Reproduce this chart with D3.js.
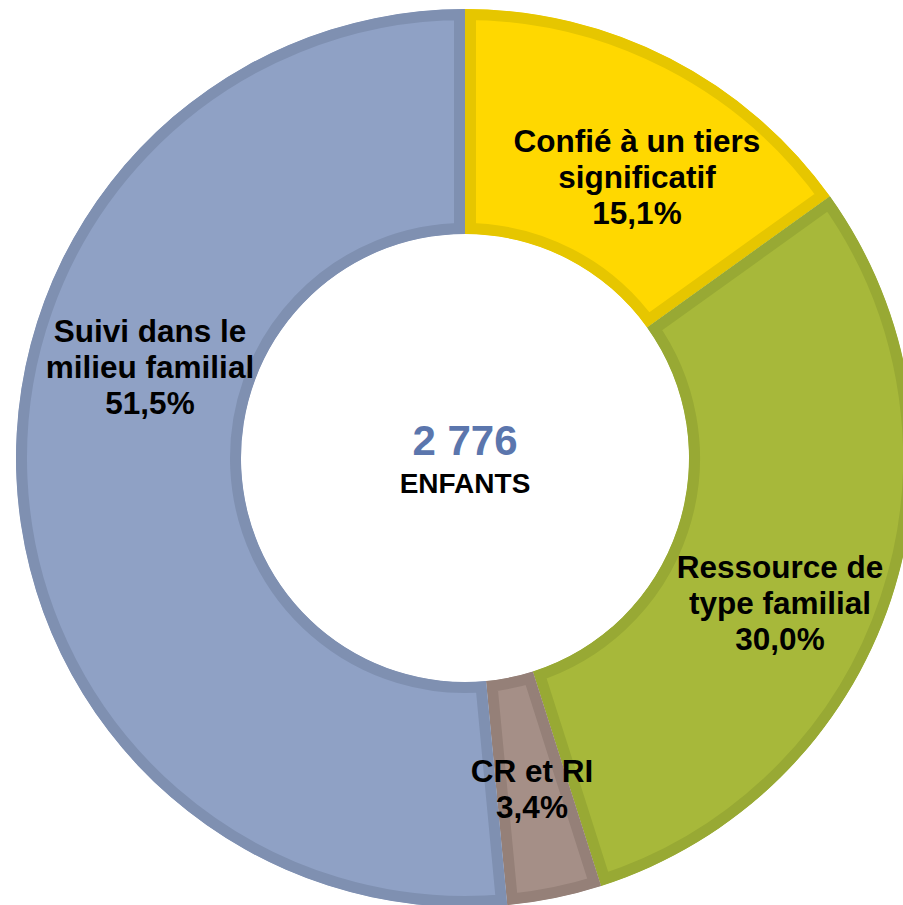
<!DOCTYPE html>
<html lang="fr">
<head>
  <meta charset="UTF-8">
  <title>Répartition des enfants</title>
  <script src="https://d3js.org/d3.v7.min.js"></script>
  <style>
    html, body { margin: 0; padding: 0; background: #fff; }
    svg { display: block; font-family: "Liberation Sans", Arial, sans-serif; }
  </style>
</head>
<body>
  <div id="chart"></div>
  <script>
    // data
    const categories = ["Confié à un tiers significatif", "Ressource de type familial", "CR et RI", "Suivi dans le milieu familial"];
    const labelLines = [["Confié à un tiers", "significatif"], ["Ressource de", "type familial"], ["CR et RI"], ["Suivi dans le", "milieu familial"]];
    const values = [15.1, 30.0, 3.4, 51.5];
    const total = "2 776";
    const totalLabel = "ENFANTS";

    const fills   = ["#FFD800", "#A7B83A", "#A58F87", "#8FA1C5"];
    const strokes = ["#E6C600", "#98A934", "#958078", "#7F90B1"];
    // label anchor (center of first line) for each slice
    const labelPos = [[637, 152], [780, 578], [532, 782], [150, 342]];

    const width = 903, height = 905;
    const cx = 465, cy = 458, outerR = 449, innerR = 224;
    const border = 11, lineH = 36;

    const svg = d3.select("#chart").append("svg")
      .attr("width", width)
      .attr("height", height);

    const pie = d3.pie().sort(null).value(d => d);
    const arc = d3.arc().innerRadius(innerR).outerRadius(outerR);
    const arcs = pie(values);

    const g = svg.append("g").attr("transform", `translate(${cx},${cy})`);
    const defs = svg.append("defs");

    arcs.forEach((a, i) => {
      defs.append("clipPath").attr("id", "clip" + i)
        .append("path").attr("d", arc(a));
    });

    g.selectAll("path.slice")
      .data(arcs)
      .join("path")
      .attr("class", "slice")
      .attr("d", arc)
      .attr("fill", (d, i) => fills[i])
      .attr("stroke", (d, i) => strokes[i])
      .attr("stroke-width", border * 2)
      .attr("stroke-linejoin", "miter")
      .attr("clip-path", (d, i) => `url(#clip${i})`);

    // slice labels
    arcs.forEach((a, i) => {
      const lines = labelLines[i].concat([d3.format(".1f")(values[i]).replace(".", ",") + "%"]);
      const t = svg.append("text")
        .attr("text-anchor", "middle")
        .attr("font-weight", "bold")
        .attr("font-size", 31.5)
        .attr("fill", "#000");
      lines.forEach((l, k) => {
        t.append("tspan")
          .attr("x", labelPos[i][0])
          .attr("y", labelPos[i][1] + k * lineH)
          .text(l);
      });
    });

    // center
    svg.append("text")
      .attr("x", cx).attr("y", 455)
      .attr("text-anchor", "middle")
      .attr("font-weight", "bold")
      .attr("font-size", 42)
      .attr("fill", "#5B76AD")
      .text(total);
    svg.append("text")
      .attr("x", cx).attr("y", 493)
      .attr("text-anchor", "middle")
      .attr("font-weight", "bold")
      .attr("font-size", 28)
      .attr("fill", "#000")
      .text(totalLabel);
  </script>
</body>
</html>
